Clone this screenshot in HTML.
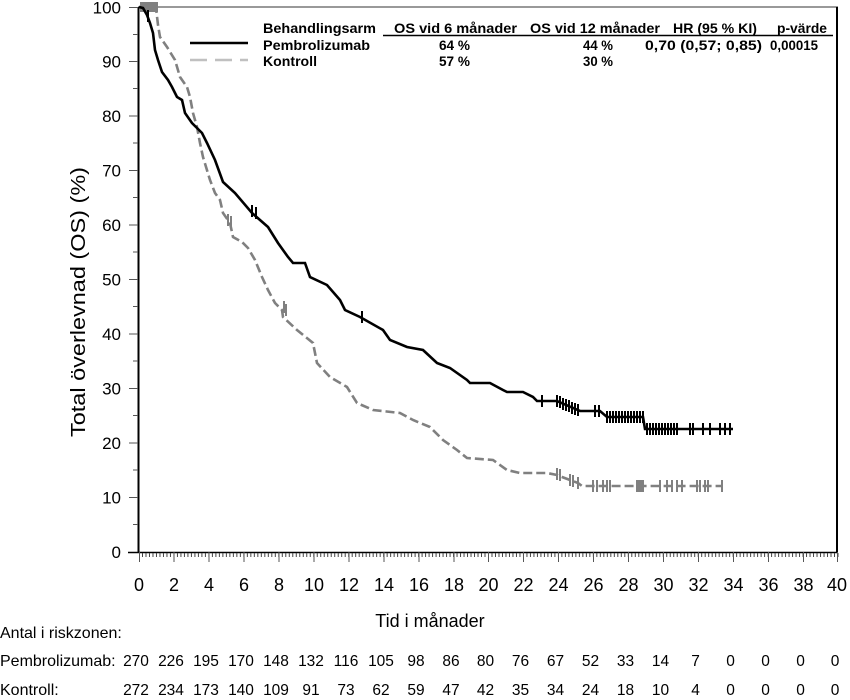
<!DOCTYPE html>
<html>
<head>
<meta charset="utf-8">
<style>
html,body{margin:0;padding:0;background:#fff;}
svg{display:block;}
text{font-family:"Liberation Sans",Arial,sans-serif;fill:#000;}
.b{font-weight:bold;font-size:13.5px;}
</style>
</head>
<body>
<svg width="850" height="700" viewBox="0 0 850 700" xmlns="http://www.w3.org/2000/svg">
<defs>
<pattern id="mt" patternUnits="userSpaceOnUse" x="138.5" y="552" width="3.495" height="6">
<rect x="0" y="0" width="1" height="6" fill="#444"/>
</pattern>
</defs>
<rect width="850" height="700" fill="#fff"/>

<!-- frame -->
<line x1="138" y1="7" x2="838" y2="7" stroke="#333" stroke-width="1"/>
<line x1="837" y1="7" x2="837" y2="552" stroke="#000" stroke-width="2"/>
<line x1="138.5" y1="7" x2="138.5" y2="553" stroke="#000" stroke-width="2"/>
<line x1="128" y1="552.5" x2="838" y2="552.5" stroke="#000" stroke-width="1.5"/>

<!-- x minor ticks -->
<rect x="139" y="553" width="700" height="4" fill="url(#mt)"/>
<!-- x major ticks -->
<g stroke="#555" stroke-width="1">
<line x1="139.5" y1="552" x2="139.5" y2="562"/>
<line x1="174" y1="552" x2="174" y2="562"/>
<line x1="209" y1="552" x2="209" y2="562"/>
<line x1="244" y1="552" x2="244" y2="562"/>
<line x1="279" y1="552" x2="279" y2="562"/>
<line x1="314" y1="552" x2="314" y2="562"/>
<line x1="349" y1="552" x2="349" y2="562"/>
<line x1="384" y1="552" x2="384" y2="562"/>
<line x1="419" y1="552" x2="419" y2="562"/>
<line x1="454" y1="552" x2="454" y2="562"/>
<line x1="488.5" y1="552" x2="488.5" y2="562"/>
<line x1="523.5" y1="552" x2="523.5" y2="562"/>
<line x1="558.5" y1="552" x2="558.5" y2="562"/>
<line x1="593.5" y1="552" x2="593.5" y2="562"/>
<line x1="628.5" y1="552" x2="628.5" y2="562"/>
<line x1="663.5" y1="552" x2="663.5" y2="562"/>
<line x1="698.5" y1="552" x2="698.5" y2="562"/>
<line x1="733.5" y1="552" x2="733.5" y2="562"/>
<line x1="768.5" y1="552" x2="768.5" y2="562"/>
<line x1="803.5" y1="552" x2="803.5" y2="562"/>
<line x1="837.5" y1="552" x2="837.5" y2="562"/>
</g>

<!-- y ticks -->
<g stroke="#555" stroke-width="1">
<line x1="129" y1="7.5" x2="138" y2="7.5"/>
<line x1="133" y1="34.5" x2="138" y2="34.5"/>
<line x1="129" y1="61.5" x2="138" y2="61.5"/>
<line x1="133" y1="88.5" x2="138" y2="88.5"/>
<line x1="129" y1="116" x2="138" y2="116"/>
<line x1="133" y1="143" x2="138" y2="143"/>
<line x1="129" y1="170.5" x2="138" y2="170.5"/>
<line x1="133" y1="197.5" x2="138" y2="197.5"/>
<line x1="129" y1="225" x2="138" y2="225"/>
<line x1="133" y1="252" x2="138" y2="252"/>
<line x1="129" y1="279.5" x2="138" y2="279.5"/>
<line x1="133" y1="306.5" x2="138" y2="306.5"/>
<line x1="129" y1="334" x2="138" y2="334"/>
<line x1="133" y1="361" x2="138" y2="361"/>
<line x1="129" y1="388.5" x2="138" y2="388.5"/>
<line x1="133" y1="415.5" x2="138" y2="415.5"/>
<line x1="129" y1="443" x2="138" y2="443"/>
<line x1="133" y1="470" x2="138" y2="470"/>
<line x1="129" y1="497.5" x2="138" y2="497.5"/>
<line x1="133" y1="524.5" x2="138" y2="524.5"/>
</g>

<!-- y labels -->
<g font-size="17" text-anchor="end">
<text x="121" y="13.5">100</text>
<text x="121" y="67.5">90</text>
<text x="121" y="122">80</text>
<text x="121" y="176.5">70</text>
<text x="121" y="231">60</text>
<text x="121" y="285.5">50</text>
<text x="121" y="340">40</text>
<text x="121" y="394.5">30</text>
<text x="121" y="449">20</text>
<text x="121" y="503.5">10</text>
<text x="121" y="558">0</text>
</g>

<!-- x labels -->
<g font-size="18" text-anchor="middle">
<text x="139" y="591">0</text>
<text x="174" y="591">2</text>
<text x="209" y="591">4</text>
<text x="244" y="591">6</text>
<text x="279" y="591">8</text>
<text x="314" y="591">10</text>
<text x="349" y="591">12</text>
<text x="384" y="591">14</text>
<text x="419" y="591">16</text>
<text x="454" y="591">18</text>
<text x="488.5" y="591">20</text>
<text x="523.5" y="591">22</text>
<text x="558.5" y="591">24</text>
<text x="593.5" y="591">26</text>
<text x="628.5" y="591">28</text>
<text x="663.5" y="591">30</text>
<text x="698.5" y="591">32</text>
<text x="733.5" y="591">34</text>
<text x="768.5" y="591">36</text>
<text x="803.5" y="591">38</text>
<text x="837" y="591">40</text>
</g>

<!-- axis titles -->
<text x="430" y="627" font-size="18" text-anchor="middle">Tid i månader</text>
<text transform="translate(85,437) rotate(-90)" font-size="20" textLength="270" lengthAdjust="spacingAndGlyphs">Total överlevnad (OS) (%)</text>

<!-- Control curve (gray dashed) -->
<path d="M139,7 L156,8 L158,25 L160,37 L167,47 L175,60 L180,77 L187,87 L190,97 L193,113 L197,127 L200,143 L203,157 L210,180 L215,193 L220,200 L223,213 L230,223 L233,237 L242,242 L248,248 L255,260 L262,277 L268,290 L275,303 L282,310 L283,317 L297,330 L313,343 L317,363 L330,377 L347,387 L357,403 L373,410 L400,413 L413,420 L430,427 L443,440 L457,450 L467,458 L493,460 L507,470 L520,473 L547,473 L557,475 L562,477 L570,480 L578,483 L582,486 L723,486" fill="none" stroke="#808080" stroke-width="2.6" stroke-dasharray="9,4"/>
<!-- gray censor marks -->
<g stroke="#808080" stroke-width="2">
<path d="M141,2v10M143,2v10M145,2v10M147,2v10M149,2v10M151,2v10M153,2v10M155,2v10M157,2v10"/>
<path d="M228,214v12M231,216v12M284,301v12M286,304v12"/>
<path d="M557,468v12M560,469v12M570,474v12M573,475v12M578,477v12"/>
<path d="M593,480v12M597,480v12M603,480v12M607,480v12M610,480v12M637,480v12M639,480v12M641,480v12M643,480v12M660,480v12M667,480v12M672,480v12M677,480v12M682,480v12M697,480v12M700,480v12M705,480v12M708,480v12M722,480v12"/>
</g>

<!-- Pembrolizumab curve (black) -->
<path d="M139,7 L143,8 L147,15 L150,23 L153,33 L155,50 L158,60 L162,72 L168,80 L172,87 L175,93 L177,97 L182,100 L185,113 L192,123 L197,128 L202,133 L207,143 L215,160 L223,182 L235,193 L252,213 L268,227 L278,243 L288,257 L293,263 L305,263 L310,277 L327,285 L340,300 L345,310 L360,317 L383,330 L390,340 L407,347 L423,350 L437,363 L450,368 L467,380 L470,383 L490,383 L503,390 L507,392 L523,392 L533,397 L537,401 L557,401 L580,411 L600,411 L607,417 L643,417 L645,429 L733,429" fill="none" stroke="#000" stroke-width="2.6"/>
<!-- black censor marks -->
<g stroke="#000" stroke-width="2">
<path d="M148,10v12M252,205v12M256,207v12M362,311v12M542,395v12"/>
<path d="M557,395v12M560,396v12M563,398v12M566,399v12M569,400v12M572,402v12M575,403v12M578,404v12"/>
<path d="M595,405v12M599,405v12"/>
<path d="M607,411v12M610,411v12M613,411v12M616,411v12M619,411v12M622,411v12M625,411v12M628,411v12M631,411v12M634,411v12M637,411v12M640,411v12M643,411v12"/>
<path d="M647,423v12M650,423v12M653,423v12M656,423v12M659,423v12M662,423v12M665,423v12M668,423v12M671,423v12M674,423v12M677,423v12M690,423v12M693,423v12M703,423v12M710,423v12M720,423v12M725,423v12M730,423v12"/>
</g>

<!-- legend / table -->
<g class="b">
<text x="263" y="33" textLength="113" lengthAdjust="spacingAndGlyphs">Behandlingsarm</text>
<text x="394" y="33" textLength="123" lengthAdjust="spacingAndGlyphs">OS vid 6 månader</text>
<text x="530" y="33" textLength="130" lengthAdjust="spacingAndGlyphs">OS vid 12 månader</text>
<text x="673" y="33" textLength="84" lengthAdjust="spacingAndGlyphs">HR (95 % KI)</text>
<text x="777" y="33" textLength="50" lengthAdjust="spacingAndGlyphs">p-värde</text>
<text x="263" y="50" textLength="107" lengthAdjust="spacingAndGlyphs">Pembrolizumab</text>
<text x="439" y="50" textLength="31" lengthAdjust="spacingAndGlyphs">64 %</text>
<text x="583" y="50" textLength="30" lengthAdjust="spacingAndGlyphs">44 %</text>
<text x="645" y="50" textLength="117" lengthAdjust="spacingAndGlyphs">0,70 (0,57; 0,85)</text>
<text x="770" y="50" textLength="48" lengthAdjust="spacingAndGlyphs">0,00015</text>
<text x="263" y="66" textLength="54" lengthAdjust="spacingAndGlyphs">Kontroll</text>
<text x="439" y="66" textLength="31" lengthAdjust="spacingAndGlyphs">57 %</text>
<text x="583" y="66" textLength="30" lengthAdjust="spacingAndGlyphs">30 %</text>
</g>
<line x1="383" y1="35.5" x2="833" y2="35.5" stroke="#000" stroke-width="1.5"/>
<line x1="190" y1="43" x2="248" y2="43" stroke="#000" stroke-width="2.6"/>
<line x1="190" y1="60" x2="248" y2="60" stroke="#c0c0c0" stroke-width="2.6" stroke-dasharray="17,8"/>

<!-- risk table -->
<g font-size="16">
<text x="0" y="638">Antal i riskzonen:</text>
<text x="0" y="666">Pembrolizumab:</text>
<text x="0" y="695">Kontroll:</text>
</g>
<g font-size="15.5" text-anchor="middle">
<text x="136" y="666">270</text>
<text x="171" y="666">226</text>
<text x="206" y="666">195</text>
<text x="241" y="666">170</text>
<text x="276" y="666">148</text>
<text x="311" y="666">132</text>
<text x="346" y="666">116</text>
<text x="381" y="666">105</text>
<text x="416" y="666">98</text>
<text x="451" y="666">86</text>
<text x="485.5" y="666">80</text>
<text x="520.5" y="666">76</text>
<text x="555.5" y="666">67</text>
<text x="590.5" y="666">52</text>
<text x="625.5" y="666">33</text>
<text x="660.5" y="666">14</text>
<text x="695.5" y="666">7</text>
<text x="730.5" y="666">0</text>
<text x="765.5" y="666">0</text>
<text x="800.5" y="666">0</text>
<text x="835" y="666">0</text>

<text x="136" y="695">272</text>
<text x="171" y="695">234</text>
<text x="206" y="695">173</text>
<text x="241" y="695">140</text>
<text x="276" y="695">109</text>
<text x="311" y="695">91</text>
<text x="346" y="695">73</text>
<text x="381" y="695">62</text>
<text x="416" y="695">59</text>
<text x="451" y="695">47</text>
<text x="485.5" y="695">42</text>
<text x="520.5" y="695">35</text>
<text x="555.5" y="695">34</text>
<text x="590.5" y="695">24</text>
<text x="625.5" y="695">18</text>
<text x="660.5" y="695">10</text>
<text x="695.5" y="695">4</text>
<text x="730.5" y="695">0</text>
<text x="765.5" y="695">0</text>
<text x="800.5" y="695">0</text>
<text x="835" y="695">0</text>
</g>
</svg>
</body>
</html>
